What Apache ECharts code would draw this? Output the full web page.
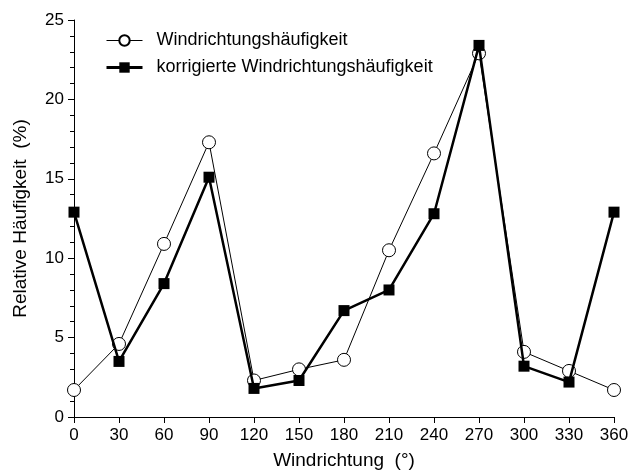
<!DOCTYPE html>
<html>
<head>
<meta charset="utf-8">
<script src="https://cdn.jsdelivr.net/npm/echarts@6/dist/echarts.min.js"></script>
<style>
  html, body { margin: 0; padding: 0; background: #fff; }
  #chart { width: 632px; height: 475px; }
</style>
</head>
<body>
<div id="chart"></div>
<script>
// Windrichtung (°)
const richtungen = [0, 30, 60, 90, 120, 150, 180, 210, 240, 270, 300, 330, 360]
// Windrichtungshäufigkeit (%)
const haeufigkeit = [1.7, 4.6, 10.9, 17.3, 2.3, 3.0, 3.6, 10.5, 16.6, 22.9, 4.1, 2.9, 1.7]
// korrigierte Windrichtungshäufigkeit (%)
const korrigiert = [12.9, 3.5, 8.4, 15.1, 1.8, 2.3, 6.7, 8.0, 12.8, 23.4, 3.2, 2.2, 12.9]

const FONT = 'Liberation Sans, Arial, sans-serif'
const pairs = vals => richtungen.map((r, i) => [r, vals[i]])

const achse = {
  axisLine: { show: true, lineStyle: { color: '#000', width: 1 } },
  axisTick: { show: true, inside: false, length: 6, lineStyle: { color: '#000' } },
  axisLabel: { color: '#000', fontFamily: FONT, fontSize: 17 },
  splitLine: { show: false },
  nameTextStyle: { color: '#000', fontFamily: FONT, fontSize: 19 }
}

echarts.init(document.getElementById('chart')).setOption({
  animation: false,
  backgroundColor: '#fff',
  grid: { left: 74, right: 18, top: 20, bottom: 54 },
  legend: {
    orient: 'vertical',
    left: 100,
    top: 26,
    itemWidth: 36,
    itemHeight: 13,
    itemGap: 8,
    textStyle: { color: '#000', fontFamily: FONT, fontSize: 18, lineHeight: 19, padding: [0, 0, 0, 9] },
    data: [
      { name: 'Windrichtungshäufigkeit', lineStyle: { width: 1 } },
      { name: 'korrigierte Windrichtungshäufigkeit', lineStyle: { width: 3 } }
    ]
  },
  xAxis: Object.assign({}, achse, {
    type: 'value',
    min: 0,
    max: 360,
    interval: 30,
    name: 'Windrichtung  (°)',
    nameLocation: 'middle',
    nameGap: 34,
    axisLabel: Object.assign({}, achse.axisLabel, { margin: 10 })
  }),
  yAxis: Object.assign({}, achse, {
    type: 'value',
    min: 0,
    max: 25,
    interval: 5,
    name: 'Relative Häufigkeit  (%)',
    nameLocation: 'middle',
    nameGap: 44,
    minorTick: { show: true, splitNumber: 5, length: 4, lineStyle: { color: '#000' } },
    axisLabel: Object.assign({}, achse.axisLabel, { margin: 10 })
  }),
  series: [
    {
      name: 'Windrichtungshäufigkeit',
      type: 'line',
      data: pairs(haeufigkeit),
      symbol: 'circle',
      symbolSize: 13,
      showAllSymbol: true,
      lineStyle: { color: '#000', width: 1 },
      itemStyle: { color: '#fff', borderColor: '#000', borderWidth: 1 },
      z: 2
    },
    {
      name: 'korrigierte Windrichtungshäufigkeit',
      type: 'line',
      data: pairs(korrigiert),
      symbol: 'rect',
      symbolSize: 11,
      showAllSymbol: true,
      lineStyle: { color: '#000', width: 2.5 },
      itemStyle: { color: '#000', borderColor: '#000', borderWidth: 0 },
      z: 3
    }
  ]
})
</script>
</body>
</html>
